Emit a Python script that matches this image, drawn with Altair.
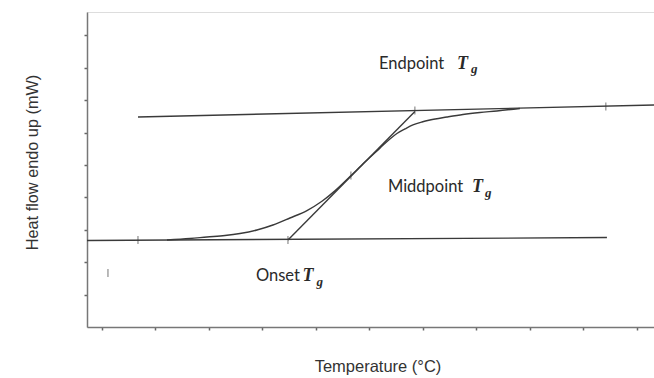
import altair as alt
import pandas as pd

# DSC trace: temperature (°C) vs heat flow (mW), glass transition step
curve_temp = [22.15, 26.45, 29.63, 32.99, 35.79, 38.97, 41.96, 45.14, 48.32, 51.12,
              53.55, 56.36, 59.16, 61.96, 63.83, 65.14, 66.64, 68.13, 69.81, 71.31,
              74.49, 77.48, 80.65, 83.83, 88.13]
curve_flow = [2.685, 2.731, 2.778, 2.824, 2.886, 2.994, 3.148, 3.364, 3.593, 3.880,
              4.201, 4.642, 5.093, 5.519, 5.802, 5.972, 6.111, 6.235, 6.327, 6.389,
              6.481, 6.559, 6.620, 6.667, 6.744]

# Construction lines: lower baseline, upper baseline, inflection tangent
guide_name = ["lower", "lower", "upper", "upper", "tangent", "tangent"]
guide_temp = [7.2, 104.4, 16.73, 113.2, 44.77, 68.5]
guide_flow = [2.67, 2.76, 6.48, 6.85, 2.685, 6.65]

# Marker ticks along the construction lines
mark_temp = [16.73, 44.77, 56.54, 68.5, 104.2, 11.12]
mark_flow = [2.685, 2.685, 4.676, 6.682, 6.806, 1.667]

# Annotation text anchors
label_text = ["Endpoint", "Middpoint", "Onset"]
label_temp = [61.78, 63.46, 38.79]
label_flow = [7.963, 4.167, 1.42]
sym_temp = [76.36, 79.16, 47.5]
sym_flow = [7.963, 4.167, 1.42]
sub_temp = [78.97, 81.59, 50.1]
sub_flow = [7.824, 4.012, 1.265]

x_ticks = [10, 20, 30, 40, 50, 60, 70, 80, 90, 100, 110]
y_ticks = [1, 2, 3, 4, 5, 6, 7, 8, 9]

curve = pd.DataFrame({"T": curve_temp, "Q": curve_flow, "i": range(len(curve_temp))})
guides = pd.DataFrame({"name": guide_name, "T": guide_temp, "Q": guide_flow})
marks = pd.DataFrame({"T": mark_temp, "Q": mark_flow})
labels = pd.DataFrame({"text": label_text, "T": label_temp, "Q": label_flow})
syms = pd.DataFrame({"T": sym_temp, "Q": sym_flow})
subs = pd.DataFrame({"T": sub_temp, "Q": sub_flow})

xs = alt.Scale(domain=[7.2, 113.2], nice=False, zero=False)
ys = alt.Scale(domain=[0, 9.72], nice=False, zero=False)

x_enc = alt.X("T:Q", scale=xs, axis=alt.Axis(
    values=x_ticks, tickCount=len(x_ticks), labels=False, labelOverlap=False,
    tickSize=3, tickColor="#666", tickWidth=1.5, grid=False,
    domainColor="#777", domainWidth=1.5,
    title="Temperature (°C)", titleFont="Liberation Sans", titleFontSize=16.5,
    titleFontWeight="normal", titleColor="#333", titleX=290.5, titleY=31,
    titleBaseline="top", titleAlign="center"))
y_enc = alt.Y("Q:Q", scale=ys, axis=alt.Axis(
    values=y_ticks, tickCount=len(y_ticks), labels=False, labelOverlap=False,
    tickSize=3, tickColor="#666", tickWidth=1.5, grid=False,
    domainColor="#777", domainWidth=1.5,
    title="Heat flow endo up (mW)", titleFont="Liberation Sans", titleFontSize=16.3,
    titleFontWeight="normal", titleColor="#333", titleX=-47, titleY=150,
    titleAngle=270, titleBaseline="bottom", titleAlign="center"))

line_color = "#3a3a3a"

curve_layer = alt.Chart(curve).mark_line(
    color=line_color, strokeWidth=1.4, interpolate="monotone"
).encode(x=x_enc, y=y_enc, order="i:Q")

guide_layer = alt.Chart(guides).mark_line(color=line_color, strokeWidth=1.4).encode(
    x="T:Q", y="Q:Q", detail="name:N")

tick_layer = alt.Chart(marks).mark_tick(
    color=line_color, orient="vertical", size=8, thickness=1).encode(x="T:Q", y="Q:Q")

label_layer = alt.Chart(labels).mark_text(
    align="left", baseline="alphabetic", font="Lato", fontSize=16.5, color="#2a2a2a"
).encode(x="T:Q", y="Q:Q", text="text:N")

sym_layer = alt.Chart(syms).mark_text(
    align="left", baseline="alphabetic", font="Liberation Serif", fontSize=18,
    fontStyle="italic", fontWeight="bold", color="#2a2a2a", text="T"
).encode(x="T:Q", y="Q:Q")

sub_layer = alt.Chart(subs).mark_text(
    align="left", baseline="alphabetic", font="Liberation Serif", fontSize=13,
    fontStyle="italic", fontWeight="bold", color="#2a2a2a", text="g"
).encode(x="T:Q", y="Q:Q")

chart = alt.layer(
    guide_layer, curve_layer, tick_layer, label_layer, sym_layer, sub_layer
).properties(
    width=567, height=315,
    autosize=alt.AutoSizeParams(type="none"),
    padding={"left": 87, "top": 12, "right": 0, "bottom": 51},
).configure_view(stroke=None).configure(background="white")

chart.save("out.html", embed_options={"renderer": "svg", "actions": False})
